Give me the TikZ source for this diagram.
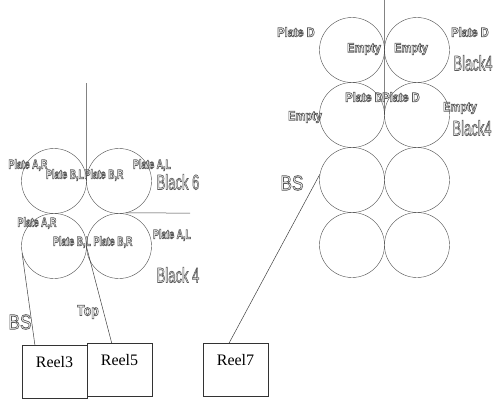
\documentclass[tikz,border=0pt]{standalone}
\usepackage{fontspec}
\setmainfont{Liberation Serif}
\newfontfamily\labelfont{Liberation Sans}
\usetikzlibrary{positioning, calc}
\newcommand{\hollow}[2][0.68]{\scalebox{#1}[1]{\special{pdf:literal direct 1 Tr 0.75 w}#2\special{pdf:literal direct 0 Tr}}}

\begin{document}
\begin{tikzpicture}[
    x=1pt, y=-1pt,
    roller/.style={draw=black!70, circle, minimum size=65pt, inner sep=0pt},
    reel/.style={draw=black!80, minimum width=65pt, minimum height=53pt, inner sep=0pt},
    reeltext/.style={anchor=north, yshift=-8pt, font=\fontsize{16}{16}\selectfont},
    plate/.style={text=black!65, inner sep=0pt, font=\labelfont\bfseries\fontsize{13}{13}\selectfont},
    unit/.style={text=black!65, inner sep=0pt, font=\labelfont\fontsize{21}{21}\selectfont},
    web/.style={draw=black!75, line width=0.5pt}
]
    \useasboundingbox (0,0) rectangle (500,418);

    % left tower
    \node[roller] (l11) at (54,181) {};
    \node[roller] (l12) at (119,181) {};
    \node[roller] (l21) at (54,246) {};
    \node[roller] (l22) at (119,246) {};

    % right tower
    \node[roller] (r11) at (352,50) {};
    \node[roller] (r12) at (417,50) {};
    \node[roller] (r21) at (352,115) {};
    \node[roller] (r22) at (417,115) {};
    \node[roller] (r31) at (352,180) {};
    \node[roller] (r32) at (417,180) {};
    \node[roller] (r41) at (352,245) {};
    \node[roller] (r42) at (417,245) {};

    % reels
    \node[reel, label={[reeltext]north:Reel3}] (reel3) at (54.5,371.5) {};
    \node[reel, label={[reeltext]north:Reel5}] (reel5) at (119.5,369.5) {};
    \node[reel, label={[reeltext]north:Reel7}] (reel7) at (235.5,370) {};

    \coordinate (lin) at (86.5,83);
    \coordinate (lout) at (190,213);
    \coordinate (rin) at (384.5,0);

    % webs
    \draw[web] (lin) -- (l11.east);
    \draw[web] (l12.-78) -- (lout);
    \draw[web] (rin) -- (r21.east);
    \draw[web] (l21.192) -- ($(reel3.north west)!0.2!(reel3.north east)$);
    \draw[web] (l22.west) -- ($(reel5.north west)!0.38!(reel5.north east)$);
    \draw[web] (r31.170) -- ($(reel7.north west)!0.4!(reel7.north east)$);

    % left tower labels
    \node[plate] (la1) at (28,165) {\hollow{Plate A,R}};
    \node[plate] (lb1) at (65,175) {\hollow{Plate B,L}};
    \node[plate] (lc1) at (104,175) {\hollow{Plate B,R}};
    \node[plate] (ld1) at (152,165) {\hollow{Plate A,L}};
    \node[unit] (lk6) at (178,182) {\hollow[0.62]{Black 6}};
    \node[plate] (la2) at (37,223) {\hollow{Plate A,R}};
    \node[plate] (lb2) at (72,242) {\hollow{Plate B,L}};
    \node[plate] (lc2) at (113,242) {\hollow{Plate B,R}};
    \node[plate] (ld2) at (172,235) {\hollow{Plate A,L}};
    \node[unit] (lk4) at (178,275) {\hollow[0.62]{Black 4}};
    \node[unit] (lbs) at (20,322) {\hollow[0.82]{BS}};
    \node[unit, font=\labelfont\bfseries\fontsize{15}{15}\selectfont] (ltop) at (88,312) {\hollow[0.82]{Top}};

    % right tower labels
    \node[plate] (ra1) at (296,32) {\hollow[0.85]{Plate D}};
    \node[plate] (rb1) at (364,49) {\hollow[0.85]{Empty}};
    \node[plate] (rc1) at (411,49) {\hollow[0.85]{Empty}};
    \node[plate] (rd1) at (470,32) {\hollow[0.85]{Plate D}};
    \node[unit] (rk1) at (473,63) {\hollow[0.62]{Black4}};
    \node[plate] (ra2) at (305,117) {\hollow[0.85]{Empty}};
    \node[plate] (rb2) at (364,97) {\hollow[0.85]{Plate D}};
    \node[plate] (rc2) at (401,97) {\hollow[0.85]{Plate D}};
    \node[plate] (rd2) at (460,108) {\hollow[0.85]{Empty}};
    \node[unit] (rk2) at (472,128) {\hollow[0.62]{Black4}};
    \node[unit] (rbs) at (292,183) {\hollow[0.82]{BS}};
\end{tikzpicture}
\end{document}
